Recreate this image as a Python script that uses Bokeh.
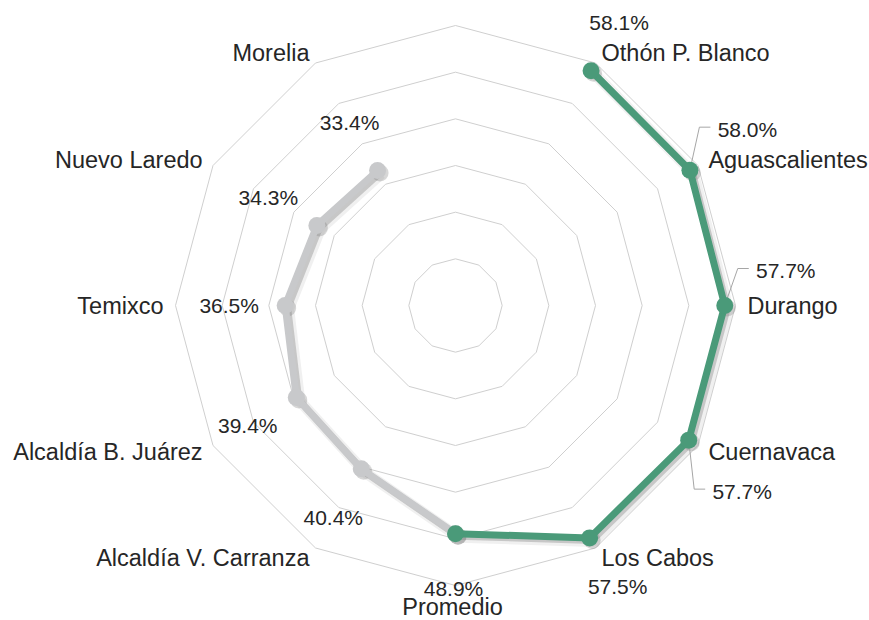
import numpy as np
from bokeh.plotting import figure
from bokeh.models import ColumnDataSource, Range1d
from bokeh.core.properties import value, field
from bokeh.embed import file_html
from bokeh.resources import INLINE

# ---- data ----
categories = ["", "Othón P. Blanco", "Aguascalientes", "Durango", "Cuernavaca", "Los Cabos",
              "Promedio", "Alcaldía V. Carranza", "Alcaldía B. Juárez", "Temixco",
              "Nuevo Laredo", "Morelia"]
green_values = [None, 58.1, 58.0, 57.7, 57.7, 57.5, 48.9, None, None, None, None, None]
gray_values = [None, None, None, None, None, None, 48.9, 40.4, 39.4, 36.5, 34.3, 33.4]
ring_ticks = [10, 20, 30, 40, 50, 60]

# ---- layout / style ----
W, H = 869, 620
CX, CY = 455, 305            # centre of the radar in canvas pixels
R_MAX = 280.0                # radius of the outer ring (px)
SCALE = R_MAX / ring_ticks[-1]
GREEN = "#4a9a79"
GRAY = "#c8c9cb"
GRID = "#cfcfcf"
TEXT = "#262626"
FONT = "Liberation Sans"
CAT_SIZE, VAL_SIZE = 23.5, 21
R_LABEL = 292
VAL_OFF = 56
SH_DX, SH_DY = 2.5, -2.5

# manual nudges for crowded labels (px)
value_label_nudge = {2: (9, 13), 3: (5, 35), 4: (5, -23), 6: (-2, 1)}
leader_idx = [2, 3, 4]
cat_label_nudge = {6: (-3, -1.5)}

n = len(categories)
theta = np.arange(n) * 2 * np.pi / n
sin_t, cos_t = np.sin(theta), np.cos(theta)

p = figure(width=W, height=H, x_range=Range1d(-CX, W - CX), y_range=Range1d(-(H - CY), CY),
           output_backend="svg", toolbar_location=None, x_axis_type=None, y_axis_type=None,
           min_border=0)
p.grid.visible = False
p.outline_line_color = None
p.background_fill_color = "white"
p.border_fill_color = "white"

# grid rings
gx, gy = [], []
for t in ring_ticks:
    r = t * SCALE
    gx.append(list(r * sin_t) + [r * sin_t[0]])
    gy.append(list(r * cos_t) + [r * cos_t[0]])
p.multi_line(gx, gy, line_color=GRID, line_width=1)


def series_xy(vals):
    idx = [i for i, v in enumerate(vals) if v is not None]
    r = np.array([vals[i] for i in idx]) * SCALE
    return idx, r * sin_t[idx], r * cos_t[idx]


g_idx, g_x, g_y = series_xy(green_values)
s_idx, s_x, s_y = series_xy(gray_values)

# shadows
for xs, ys in ((s_x, s_y), (g_x, g_y)):
    p.line(xs + SH_DX * 1.4, ys + SH_DY * 1.4, line_color="#808080", line_alpha=0.12, line_width=11)
    p.line(xs + SH_DX, ys + SH_DY, line_color="#7a7a7a", line_alpha=0.35, line_width=7)
    p.scatter(xs + SH_DX, ys + SH_DY, size=17, fill_color="#7a7a7a", fill_alpha=0.3, line_color=None)

# gray series
p.line(s_x, s_y, line_color=GRAY, line_width=7)
p.scatter(s_x, s_y, size=17, fill_color=GRAY, line_color=None)

# value labels (y = vertical centre of the digits)
vals = [g if g is not None else s for g, s in zip(green_values, gray_values)]
vx, vy, vt = [], [], []
lead_x, lead_y = [], []
for i, v in enumerate(vals):
    if v is None:
        continue
    r = v * SCALE
    px, py = r * sin_t[i], r * cos_t[i]
    lx = px + VAL_OFF * sin_t[i]
    ly = py + VAL_OFF * cos_t[i]
    dx, dy = value_label_nudge.get(i, (0, 0))
    lx += dx
    ly += dy
    vx.append(lx)
    vy.append(ly)
    vt.append(f"{v:.1f}%")
    if i in leader_idx:
        left = lx - 30
        lead_x.append([px, left - 18, left - 7])
        lead_y.append([py, ly + 2, ly + 2])

p.multi_line(lead_x, lead_y, line_color="#a6a6a6", line_width=1)

# green series
p.line(g_x, g_y, line_color=GREEN, line_width=7)
p.scatter(g_x, g_y, size=17, fill_color=GREEN, line_color=None)

p.text(vx, vy, text=vt, text_font=value(FONT), text_font_size=f"{VAL_SIZE}px",
       text_color=TEXT, text_align="center", text_baseline="alphabetic")

# category labels
cx_, cy_, ct, ca = [], [], [], []
for i, c in enumerate(categories):
    if not c:
        continue
    x = R_LABEL * sin_t[i]
    y = R_LABEL * cos_t[i]
    if abs(sin_t[i]) < 1e-6:
        align = "center"
        yc = y - 0.358 * CAT_SIZE if cos_t[i] < 0 else y + 0.358 * CAT_SIZE
    else:
        align = "left" if sin_t[i] > 0 else "right"
        yc = y
    dx, dy = cat_label_nudge.get(i, (0, 0))
    cx_.append(x + dx)
    cy_.append(yc + dy)
    ct.append(c)
    ca.append(align)

src = ColumnDataSource(dict(x=cx_, y=cy_, text=ct, align=ca))
p.text("x", "y", text="text", source=src, text_font=value(FONT), text_font_size=f"{CAT_SIZE}px",
       text_color=TEXT, text_align=field("align"), text_baseline="alphabetic")

open("out.html", "w").write(file_html(p, INLINE))
